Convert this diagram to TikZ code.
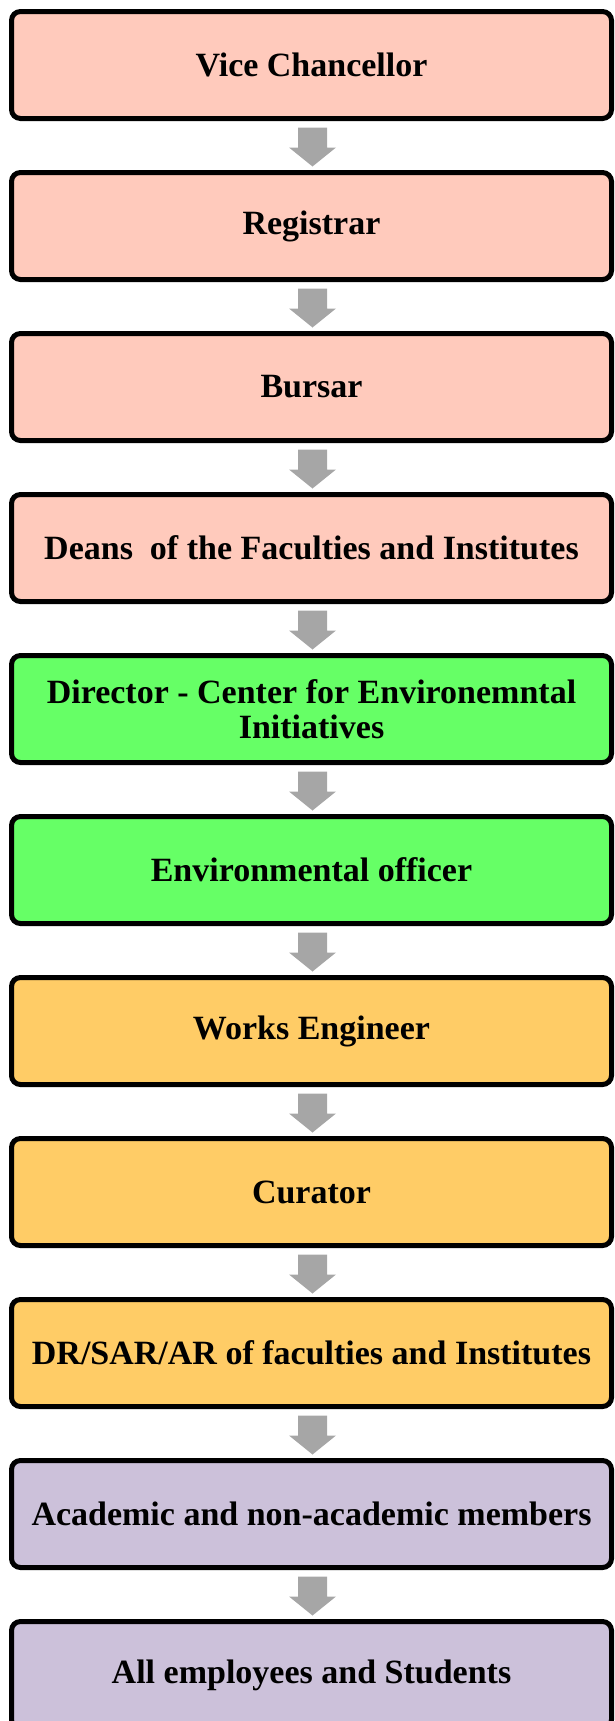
\documentclass[tikz,border=0pt]{standalone}
\usepackage{fontspec}
\setmainfont{Liberation Serif}
\usetikzlibrary{calc}
\definecolor{cpeach}{HTML}{FFCABC}
\definecolor{cgreen}{HTML}{66FF66}
\definecolor{corange}{HTML}{FFCC66}
\definecolor{cpurple}{HTML}{CCC1DA}
\definecolor{carrow}{HTML}{A6A6A6}
\tikzset{
  orgbox/.style={draw=black, line width=5pt, rounded corners=9pt,
    minimum width=600pt, minimum height=107pt, inner sep=0pt,
    align=center, font=\fontsize{34}{35}\selectfont\bfseries, text=black},
  flowarrow/.style={fill=carrow, draw=none}
}
\newcommand{\blockarrow}[2]{%
  \fill[flowarrow] let \p1=(#1.south), \p2=(#2.north) in
    (\x1+1pt-14.5pt,\y1-6.5pt) -- (\x1+1pt+14.5pt,\y1-6.5pt) --
    (\x1+1pt+14.5pt,\y1-26.5pt) -- (\x1+1pt+23.5pt,\y1-26.5pt) --
    (\x1+1pt,\y2+3.5pt) -- (\x1+1pt-23.5pt,\y1-26.5pt) --
    (\x1+1pt-14.5pt,\y1-26.5pt) -- cycle;}
\begin{document}
\begin{tikzpicture}[x=1pt,y=-1pt]
\clip (0,0) rectangle (615,1721);
\useasboundingbox (0,0) rectangle (615,1721);
\node[orgbox, fill=cpeach] (n1) at (311.5,65) {Vice Chancellor};
\node[orgbox, fill=cpeach] (n2) at (311.5,226) {Registrar};
\node[orgbox, fill=cpeach] (n3) at (311.5,387) {Bursar};
\node[orgbox, fill=cpeach] (n4) at (311.5,548) {Deans~ of the Faculties and Institutes};
\node[orgbox, fill=cgreen] (n5) at (311.5,709) {Director - Center for Environemntal\\Initiatives};
\node[orgbox, fill=cgreen] (n6) at (311.5,870) {Environmental officer};
\node[orgbox, fill=corange] (n7) at (311.5,1031) {Works Engineer};
\node[orgbox, fill=corange] (n8) at (311.5,1192) {Curator};
\node[orgbox, fill=corange] (n9) at (311.5,1353) {DR/SAR/AR of faculties and Institutes};
\node[orgbox, fill=cpurple] (n10) at (311.5,1514) {Academic and non-academic members};
\node[orgbox, fill=cpurple] (n11) at (311.5,1675) {All employees and Students};
\blockarrow{n1}{n2}
\blockarrow{n2}{n3}
\blockarrow{n3}{n4}
\blockarrow{n4}{n5}
\blockarrow{n5}{n6}
\blockarrow{n6}{n7}
\blockarrow{n7}{n8}
\blockarrow{n8}{n9}
\blockarrow{n9}{n10}
\blockarrow{n10}{n11}
\end{tikzpicture}
\end{document}
